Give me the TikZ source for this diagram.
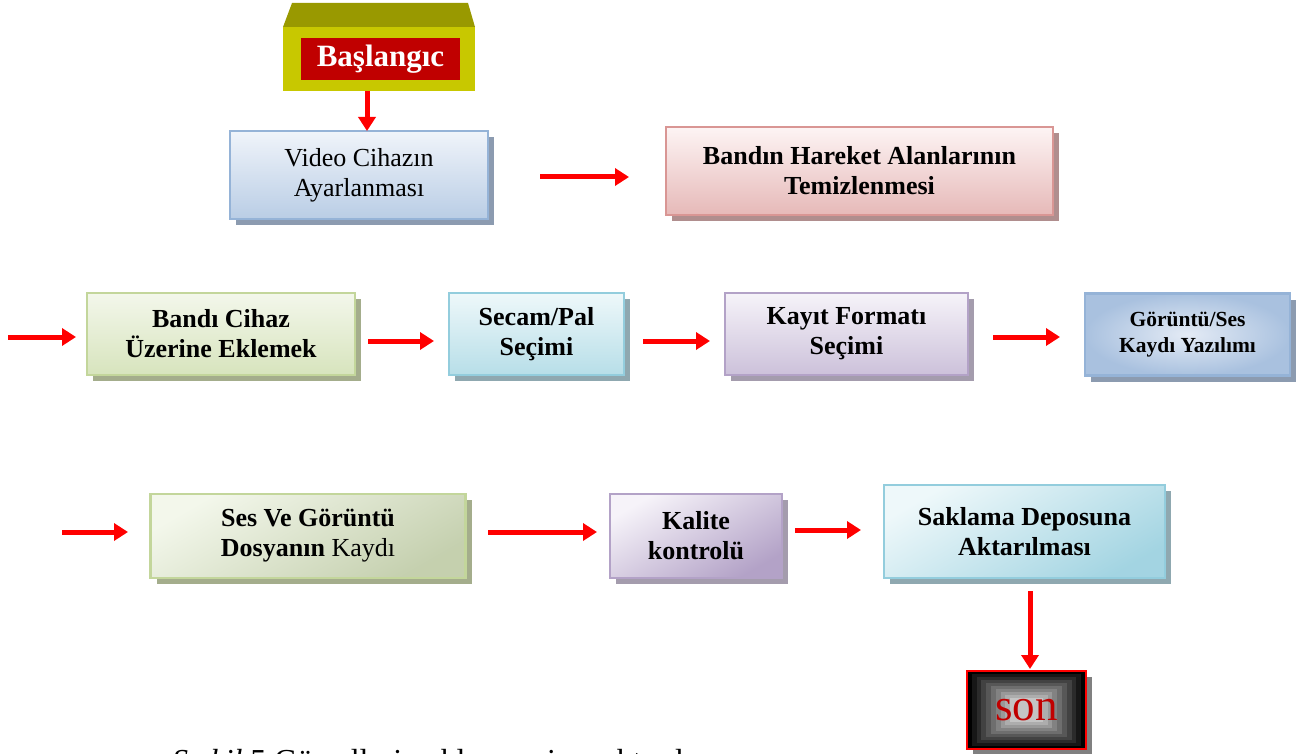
\documentclass[tikz,border=0pt]{standalone}
\usepackage{fontspec}
\setmainfont{Liberation Serif}
\usetikzlibrary{arrows.meta,shadows}
\definecolor{bluebd}{HTML}{95B3D7}\definecolor{bluetop}{HTML}{F0F4FA}\definecolor{bluebot}{HTML}{B9CDE5}\definecolor{bluesh}{HTML}{8C9BB0}
\definecolor{pinkbd}{HTML}{D99694}\definecolor{pinktop}{HTML}{FDF4F4}\definecolor{pinkbot}{HTML}{E6B9B8}\definecolor{pinksh}{HTML}{B08E8E}
\definecolor{greenbd}{HTML}{C3D69B}\definecolor{greentop}{HTML}{F3F7EB}\definecolor{greenbot}{HTML}{D7E4BD}\definecolor{greensh}{HTML}{A4AD8C}
\definecolor{cyanbd}{HTML}{93CDDD}\definecolor{cyantop}{HTML}{EEF8FA}\definecolor{cyanbot}{HTML}{B7DEE8}\definecolor{cyansh}{HTML}{8FA8B0}
\definecolor{lavbd}{HTML}{B3A2C7}\definecolor{lavtop}{HTML}{F6F3F9}\definecolor{lavbot}{HTML}{CCC1DA}\definecolor{lavsh}{HTML}{A49CAD}
\definecolor{gsin}{HTML}{E4EBF5}\definecolor{gsout}{HTML}{A9C1DF}
\definecolor{olivetop}{HTML}{999900}\definecolor{olivefront}{HTML}{C8C800}\definecolor{basred}{HTML}{C00000}
\definecolor{arrred}{HTML}{FF0000}
\begin{document}
\begin{tikzpicture}[x=1pt,y=-1pt,
  box/.style={draw, line width=2.5pt, align=center, inner sep=4pt,
    font=\fontsize{26}{30}\selectfont},
  bluebox/.style={draw=bluebd, top color=bluetop, bottom color=bluebot,
    drop shadow={shadow xshift=6pt, shadow yshift=-6pt, fill=bluesh, opacity=1}},
  pinkbox/.style={draw=pinkbd, top color=pinktop, bottom color=pinkbot,
    drop shadow={shadow xshift=6pt, shadow yshift=-6pt, fill=pinksh, opacity=1}},
  greenbox/.style={draw=greenbd, top color=greentop, bottom color=greenbot,
    drop shadow={shadow xshift=6pt, shadow yshift=-6pt, fill=greensh, opacity=1}},
  cyanbox/.style={draw=cyanbd, top color=cyantop, bottom color=cyanbot,
    drop shadow={shadow xshift=6pt, shadow yshift=-6pt, fill=cyansh, opacity=1}},
  lavbox/.style={draw=lavbd, top color=lavtop, bottom color=lavbot,
    drop shadow={shadow xshift=6pt, shadow yshift=-6pt, fill=lavsh, opacity=1}},
  arr/.style={draw=arrred, line width=5pt, -{Triangle[length=14pt,width=17pt]}}
]
\useasboundingbox (0,0) rectangle (1308,754);

% Start block
\fill[olivetop] (292,3) -- (468,3) -- (475,27) -- (283,27) -- cycle;
\fill[olivefront] (283,27) rectangle (475,91);
\node[fill=basred, minimum width=159pt, minimum height=42pt, inner sep=0pt,
  text=white, font=\fontsize{31}{34}\selectfont\bfseries] (bas) at (380.5,59) {Başlangıc};

% Row 1
\node[box, bluebox, minimum width=258pt, minimum height=88pt] (video) at (359,175)
  {Video Cihazın\\Ayarlanması};
\node[box, pinkbox, minimum width=387pt, minimum height=88pt, font=\fontsize{26}{30}\selectfont\bfseries] (bant) at (859.5,171)
  {Bandın Hareket Alanlarının\\Temizlenmesi};

% Row 2
\node[box, greenbox, minimum width=268pt, minimum height=82pt, font=\fontsize{26}{30}\selectfont\bfseries] (ekle) at (221,334)
  {Bandı Cihaz\\Üzerine Eklemek};
\node[box, cyanbox, minimum width=175pt, minimum height=82pt, font=\fontsize{26}{30}\selectfont\bfseries] (secam) at (536.5,334)
  {Secam/Pal\\Seçimi};
\node[box, lavbox, minimum width=243pt, minimum height=82pt, font=\fontsize{26}{30}\selectfont\bfseries] (format) at (846.5,334)
  {Kayıt Formatı\\Seçimi};
\node[box, draw=bluebd, inner color=gsin, outer color=gsout,
  drop shadow={shadow xshift=6pt, shadow yshift=-6pt, fill=bluesh, opacity=1},
  minimum width=205pt, minimum height=82pt, font=\fontsize{21.5}{26}\selectfont\bfseries] (yazilim) at (1187.5,334.5)
  {Görüntü/Ses\\Kaydı Yazılımı};

% Row 3
\node[box, greenbox, top color=greentop, bottom color=greenbot!90!black!95, shading angle=30, minimum width=315pt, minimum height=84pt] (kayit) at (308,536)
  {\textbf{Ses Ve Görüntü}\\\textbf{Dosyanın} Kaydı};
\node[box, lavbox, top color=lavtop, bottom color=lavbd, shading angle=30, minimum width=172pt, minimum height=84pt, font=\fontsize{26}{30}\selectfont\bfseries] (kalite) at (696,536)
  {Kalite\\kontrolü};
\node[box, cyanbox, top color=cyantop, bottom color=cyanbd!85, shading angle=30, minimum width=281pt, minimum height=93pt, font=\fontsize{26}{30}\selectfont\bfseries] (depo) at (1024.5,531.5)
  {Saklama Deposuna\\Aktarılması};

% End block
\fill[black!50] (973,677) rectangle (1092,760);
\foreach \i in {0,...,9}{
  \pgfmathtruncatemacro{\pc}{100-\i*8.5}
  \fill[black!\pc] ({967+\i*4.8},{671+\i*3}) rectangle ({1086-\i*4.8},{749-\i*3});
}
\node[draw=red, line width=1.2pt, minimum width=119pt, minimum height=78pt, inner sep=0pt,
  text=basred, font=\fontsize{45}{48}\selectfont] (son) at (1026.5,710) {son};

% Arrow end points
\coordinate (a1s) at (367,91);   \coordinate (a1e) at (367,131);
\coordinate (a2s) at (540,177);  \coordinate (a2e) at (629,177);
\coordinate (a3s) at (8,337);    \coordinate (a3e) at (76,337);
\coordinate (a4s) at (368,341);  \coordinate (a4e) at (434,341);
\coordinate (a5s) at (643,341);  \coordinate (a5e) at (710,341);
\coordinate (a6s) at (993,337);  \coordinate (a6e) at (1060,337);
\coordinate (a7s) at (62,532);   \coordinate (a7e) at (128,532);
\coordinate (a8s) at (488,532);  \coordinate (a8e) at (597,532);
\coordinate (a9s) at (795,530);  \coordinate (a9e) at (861,530);
\coordinate (a10s) at (1030,591); \coordinate (a10e) at (1030,669);
\foreach \k in {1,...,10}{ \draw[arr] (a\k s) -- (a\k e); }

% Caption (cut by the page edge, as in the reference)
\node[anchor=base west, inner sep=0pt, font=\fontsize{32}{36}\selectfont] (cap) at (172,771)
  {\textit{Ş ekil} 5 Görsellerin eklenmesi ve aktarılması};
\end{tikzpicture}
\end{document}
